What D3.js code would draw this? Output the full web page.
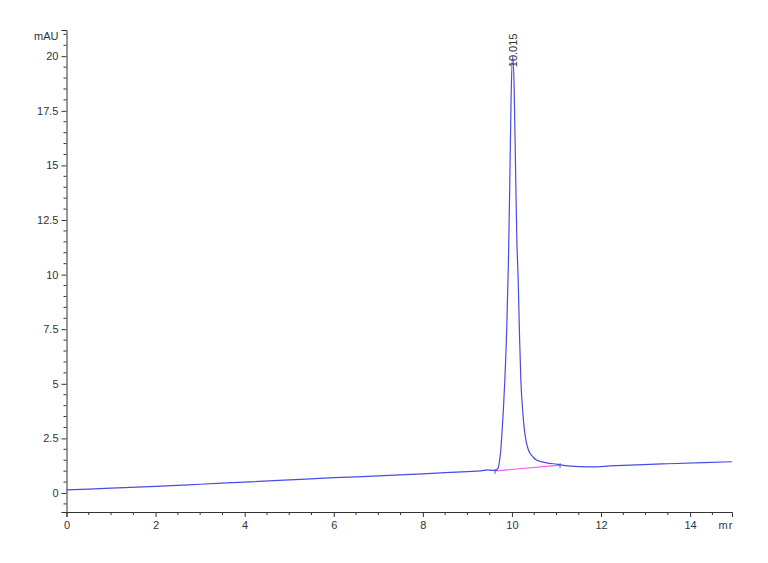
<!DOCTYPE html>
<html>
<head>
<meta charset="utf-8">
<script src="https://cdn.jsdelivr.net/npm/d3@7"></script>
<style>
  body { margin: 0; background: #fff; }
  text { font-family: "Liberation Sans Narrow", "Liberation Sans", Arial, sans-serif; font-size: 11px; fill: #333; }
</style>
</head>
<body>
<div id="chart"></div>
<script>
// retention time (min) and absorbance (mAU)
const times = [0, 1, 2, 3, 4, 5, 6, 7, 8, 8.5, 9, 9.3, 9.45, 9.55, 9.62, 9.69, 9.72, 9.75, 9.78, 9.81,
    9.84, 9.88, 9.92, 9.95, 9.98, 10.015, 10.05, 10.08, 10.11, 10.14, 10.17, 10.20, 10.24, 10.28, 10.32,
    10.37, 10.47, 10.55, 10.65, 10.78, 11.03, 11.2, 11.5, 11.8, 12.2, 12.65, 13.5, 14.3, 14.94];
const signal = [0.14, 0.22, 0.30, 0.40, 0.50, 0.60, 0.70, 0.78, 0.88, 0.93, 0.98, 1.01, 1.06, 1.04, 1.03,
    1.14, 1.45, 1.97, 2.88, 3.9, 5.17, 7.3, 10.5, 14.0, 18.0, 20.0, 18.5, 15.0, 11.6, 9.75, 7.2, 5.17,
    3.8, 2.88, 2.35, 1.97, 1.66, 1.51, 1.44, 1.38, 1.31, 1.25, 1.21, 1.20, 1.24, 1.28, 1.34, 1.39, 1.43];

// integration baseline under the peak
const baseTimes = [9.62, 11.08];
const baseValues = [1.01, 1.28];

const peakTime = 10.015;
const peakValue = 20.0;
const peakLabel = "10.015";

const xMajor = [0, 2, 4, 6, 8, 10, 12, 14];
const yMajor = [0, 2.5, 5, 7.5, 10, 12.5, 15, 17.5, 20];

const width = 768, height = 563;

const svg = d3.select("#chart").append("svg")
    .attr("width", width)
    .attr("height", height);

const x = d3.scaleLinear()
    .domain([0, 14.94])
    .range([66.5, 732]);

const y = d3.scaleLinear()
    .domain([-0.87, 21.2])
    .range([512, 30]);

// minor ticks every 0.5
const xMinor = d3.range(0, 14.94, 0.5).filter(d => xMajor.indexOf(d) < 0);
const yMinor = d3.range(-0.5, 21.2, 0.5).filter(d => yMajor.indexOf(d) < 0);

const xAxis = svg.append("g")
    .attr("transform", "translate(0," + y(-0.87) + ")");
xAxis.call(d3.axisBottom(x).tickValues(xMajor).tickSize(5).tickPadding(4).tickFormat(d3.format("d")));
xAxis.append("g").selectAll("line")
    .data(xMinor)
    .enter()
    .append("line")
    .attr("x1", d => x(d))
    .attr("x2", d => x(d))
    .attr("y1", 0)
    .attr("y2", 3)
    .attr("stroke", "#333");

const yAxis = svg.append("g")
    .attr("transform", "translate(" + x(0) + ",0)");
yAxis.call(d3.axisLeft(y).tickValues(yMajor).tickSize(5).tickPadding(3).tickFormat(d => d));
yAxis.append("g").selectAll("line")
    .data(yMinor)
    .enter()
    .append("line")
    .attr("x1", 0)
    .attr("x2", -3)
    .attr("y1", d => y(d))
    .attr("y2", d => y(d))
    .attr("stroke", "#333");

svg.selectAll(".domain").attr("stroke", "#333");
svg.selectAll(".tick line").attr("stroke", "#333");
svg.selectAll(".tick text").style("font-size", "11px").attr("fill", "#333");

// unit labels
svg.append("text")
    .attr("x", x(0) - 8)
    .attr("y", y(21.2) + 10)
    .attr("text-anchor", "end")
    .text("mAU");

svg.append("text")
    .attr("x", 726)
    .attr("y", y(-0.87) + 17)
    .attr("text-anchor", "middle")
    .attr("letter-spacing", "1px")
    .text("mr");

// baseline
svg.append("line")
    .attr("x1", x(baseTimes[0]))
    .attr("y1", y(baseValues[0]))
    .attr("x2", x(baseTimes[1]))
    .attr("y2", y(baseValues[1]))
    .attr("stroke", "#ff55ff")
    .attr("stroke-width", 1.2);

svg.append("g").selectAll("line")
    .data(baseTimes.map((t, i) => [t, baseValues[i]]))
    .enter()
    .append("line")
    .attr("x1", d => x(d[0]))
    .attr("x2", d => x(d[0]))
    .attr("y1", d => y(d[1]) - 2)
    .attr("y2", d => y(d[1]) + 3)
    .attr("stroke", "#666");

// trace
const line = d3.line()
    .x(d => x(d[0]))
    .y(d => y(d[1]))
    .curve(d3.curveMonotoneX);

svg.append("path")
    .datum(times.map((t, i) => [t, signal[i]]))
    .attr("d", line)
    .attr("fill", "none")
    .attr("stroke", "#4a4ae6")
    .attr("stroke-width", 1.2);

// peak label, rotated
svg.append("text")
    .attr("transform", "translate(" + (x(peakTime) + 4) + "," + (y(peakValue) + 11) + ") rotate(-90)")
    .attr("text-anchor", "start")
    .text(peakLabel);
</script>
</body>
</html>
